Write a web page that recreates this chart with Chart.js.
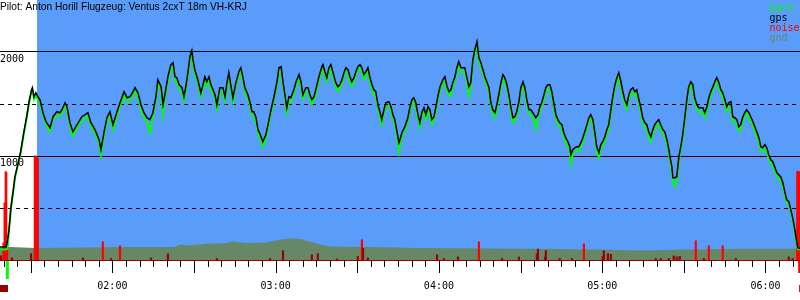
<!DOCTYPE html>
<html>
<head>
<meta charset="utf-8">
<script src="https://cdn.jsdelivr.net/npm/chart.js@4.4.1/dist/chart.umd.min.js"></script>
<style>
  html, body { margin: 0; padding: 0; background: #fff; }
  #wrap { width: 800px; height: 300px; position: relative; }
</style>
</head>
<body>
<div id="wrap"><canvas id="baro"></canvas></div>
<script>
// Barogramm eines Segelflugs: Zeit in Minuten ab 00:00, Höhen in m.
// baro/gps als Linien, Motorgeräusch (ENL) als Balken, Gelände als Fläche.
const TITLE = "Pilot: Anton Horill Flugzeug: Ventus 2cxT 18m VH-KRJ";
const X_MIN = 78.7, X_MAX = 372.7;
const START_T = 92.3;     // ab hier blau hinterlegt (Motor aus, Abflug)
const TAKEOFF_T = 81.4;   // grüne Marke unter der Achse
const LANDING_T = 372.4;  // rote Marke unter der Achse
const HOUR_TICKS = [120, 180, 240, 300, 360];
const ALT_LINES = [500, 1000, 1500, 2000];

const TIMES = [
  78.7, 80.2, 80.9, 81.2, 81.5, 82.0, 82.7, 83.6, 84.2, 85.4,
  86.3, 87.3, 88.5, 89.5, 90.3, 90.6, 91.2, 91.9, 92.6, 93.4,
  94.5, 95.6, 97.1, 98.2, 99.6, 100.7, 101.5, 102.6, 103.3, 104.4,
  105.5, 106.6, 107.7, 108.8, 110.0, 111.0, 112.1, 113.6, 115.1, 115.8,
  116.9, 118.0, 119.1, 120.2, 121.7, 122.8, 124.3, 125.4, 126.5, 127.6,
  128.3, 129.4, 130.5, 131.6, 132.7, 133.8, 134.9, 136.0, 136.7, 137.9,
  138.6, 139.3, 140.4, 141.5, 142.3, 143.0, 143.7, 144.5, 145.6, 146.3,
  147.0, 147.8, 148.5, 149.2, 149.6, 150.3, 151.4, 152.5, 153.3, 154.0,
  154.7, 155.5, 156.2, 157.0, 157.7, 158.4, 159.5, 160.6, 161.4, 162.1,
  162.8, 163.6, 164.3, 165.4, 166.5, 167.2, 168.0, 168.7, 169.8, 170.6,
  171.3, 172.0, 172.8, 173.5, 174.2, 175.3, 176.4, 177.2, 178.3, 179.4,
  180.5, 181.2, 182.0, 182.7, 183.4, 184.1, 184.9, 185.6, 186.7, 187.5,
  188.6, 189.3, 190.0, 191.1, 191.9, 192.6, 193.3, 194.1, 195.2, 195.9,
  197.0, 197.4, 198.1, 198.8, 199.6, 200.3, 201.0, 202.1, 202.9, 203.6,
  204.4, 205.1, 205.8, 206.6, 207.3, 208.0, 208.8, 209.5, 210.2, 211.0,
  211.7, 212.4, 213.2, 213.9, 214.6, 215.4, 216.1, 216.8, 217.6, 218.3,
  219.0, 219.8, 220.5, 221.6, 222.4, 223.1, 223.8, 224.6, 225.3, 225.7,
  226.4, 227.5, 228.6, 229.3, 230.1, 230.8, 231.5, 232.3, 233.0, 233.7,
  234.5, 235.2, 236.0, 236.7, 237.4, 238.2, 238.9, 239.6, 240.4, 241.5,
  242.2, 243.0, 243.7, 244.4, 245.1, 245.9, 246.6, 247.3, 248.1, 248.8,
  249.5, 250.3, 251.0, 251.7, 252.5, 253.2, 254.0, 254.7, 255.4, 256.2,
  256.9, 257.6, 258.4, 259.1, 259.8, 260.6, 261.3, 262.0, 262.8, 263.5,
  264.2, 265.0, 265.7, 266.4, 267.2, 267.9, 268.6, 269.4, 270.1, 270.9,
  271.6, 272.3, 273.1, 273.8, 274.5, 275.6, 276.4, 277.1, 277.8, 278.6,
  279.3, 280.0, 280.8, 281.5, 282.2, 283.0, 283.7, 284.4, 285.2, 285.9,
  286.6, 287.4, 288.1, 288.5, 289.2, 290.0, 290.7, 291.4, 292.2, 292.9,
  293.6, 294.4, 295.1, 295.8, 296.6, 297.3, 298.0, 298.8, 299.5, 300.2,
  301.0, 301.7, 302.4, 303.2, 303.9, 304.7, 305.4, 306.1, 306.9, 307.6,
  308.3, 309.1, 309.8, 310.5, 311.3, 312.0, 312.7, 313.5, 314.2, 314.9,
  315.7, 316.4, 317.1, 317.9, 318.6, 319.3, 320.1, 320.8, 321.5, 322.3,
  323.0, 323.8, 324.5, 324.9, 325.6, 326.0, 326.7, 327.4, 328.2, 328.9,
  329.6, 330.4, 331.1, 331.8, 332.6, 333.3, 334.0, 334.8, 335.5, 336.2,
  337.0, 337.7, 338.5, 339.2, 339.9, 340.7, 341.4, 342.1, 342.9, 343.6,
  344.3, 345.1, 345.8, 346.5, 347.3, 348.0, 348.7, 349.5, 350.2, 350.9,
  351.7, 352.4, 353.1, 353.9, 354.6, 355.4, 356.1, 356.8, 357.6, 358.3,
  359.0, 359.8, 360.5, 361.2, 362.0, 362.7, 363.4, 364.2, 364.9, 365.6,
  366.4, 367.1, 367.8, 368.6, 369.3, 370.0, 370.8, 371.5, 371.9, 372.7,
];

const GPS_ALT = [
  125, 125, 125, 150, 195, 291, 503, 676, 801, 936,
  1041, 1205, 1378, 1541, 1637, 1657, 1570, 1608, 1570, 1541,
  1416, 1330, 1272, 1378, 1426, 1416, 1445, 1512, 1474, 1320,
  1233, 1282, 1330, 1378, 1397, 1416, 1320, 1253, 1157, 1061,
  1224, 1368, 1426, 1301, 1426, 1512, 1618, 1560, 1570, 1618,
  1657, 1608, 1493, 1416, 1368, 1349, 1416, 1570, 1734, 1666,
  1493, 1589, 1762, 1878, 1897, 1762, 1753, 1686, 1657, 1570,
  1666, 1811, 1955, 2013, 1926, 1830, 1734, 1608, 1686, 1762,
  1714, 1762, 1686, 1637, 1589, 1493, 1657, 1657, 1570, 1705,
  1801, 1666, 1560, 1705, 1811, 1849, 1753, 1657, 1589, 1512,
  1426, 1426, 1368, 1253, 1215, 1137, 1205, 1301, 1445, 1570,
  1714, 1849, 1859, 1714, 1589, 1464, 1570, 1560, 1637, 1714,
  1782, 1714, 1589, 1657, 1657, 1589, 1541, 1570, 1686, 1762,
  1859, 1878, 1811, 1753, 1849, 1878, 1811, 1705, 1666, 1686,
  1734, 1801, 1849, 1830, 1762, 1714, 1753, 1811, 1859, 1878,
  1849, 1782, 1811, 1849, 1762, 1686, 1637, 1618, 1493, 1426,
  1349, 1445, 1512, 1522, 1474, 1397, 1349, 1233, 1128, 1157,
  1224, 1282, 1368, 1464, 1541, 1560, 1512, 1397, 1320, 1416,
  1464, 1397, 1474, 1445, 1349, 1378, 1474, 1570, 1666, 1734,
  1762, 1666, 1618, 1637, 1705, 1762, 1849, 1907, 1849, 1849,
  1849, 1753, 1666, 1705, 1926, 2022, 2099, 1945, 1897, 1830,
  1762, 1714, 1657, 1512, 1445, 1416, 1493, 1589, 1705, 1782,
  1753, 1686, 1589, 1474, 1368, 1378, 1426, 1522, 1657, 1714,
  1657, 1541, 1445, 1445, 1416, 1368, 1397, 1474, 1512, 1589,
  1657, 1686, 1686, 1618, 1512, 1397, 1349, 1320, 1301, 1224,
  1176, 1137, 1089, 1012, 1061, 1080, 1089, 1089, 1128, 1176,
  1233, 1301, 1368, 1397, 1349, 1224, 1089, 1032, 1109, 1137,
  1186, 1253, 1301, 1445, 1570, 1686, 1753, 1801, 1714, 1618,
  1541, 1493, 1589, 1637, 1657, 1618, 1637, 1541, 1464, 1368,
  1320, 1301, 1233, 1186, 1253, 1301, 1330, 1349, 1301, 1253,
  1233, 1157, 1061, 993, 897, 791, 791, 801, 993, 1089,
  1205, 1378, 1541, 1666, 1714, 1686, 1560, 1493, 1464, 1464,
  1464, 1416, 1474, 1560, 1618, 1666, 1714, 1753, 1705, 1637,
  1608, 1541, 1474, 1512, 1522, 1378, 1368, 1349, 1282, 1301,
  1378, 1416, 1445, 1416, 1378, 1330, 1282, 1233, 1176, 1089,
  1080, 1109, 1080, 1012, 964, 945, 897, 839, 820, 801,
  743, 657, 580, 561, 484, 407, 291, 176, 118, 110,
];

const BARO_ALT = [
  100, 100, 100, 105, 110, 280, 490, 665, 790, 925,
  1030, 1190, 1365, 1525, 1615, 1630, 1545, 1580, 1545, 1510,
  1390, 1300, 1235, 1345, 1395, 1385, 1415, 1485, 1440, 1285,
  1195, 1250, 1300, 1345, 1360, 1385, 1285, 1220, 1125, 1010,
  1190, 1335, 1395, 1255, 1390, 1480, 1580, 1525, 1535, 1585,
  1625, 1570, 1455, 1375, 1325, 1225, 1380, 1530, 1700, 1625,
  1400, 1550, 1725, 1845, 1860, 1720, 1715, 1645, 1615, 1530,
  1630, 1775, 1920, 1980, 1890, 1790, 1695, 1570, 1650, 1725,
  1680, 1725, 1645, 1600, 1550, 1450, 1620, 1615, 1530, 1670,
  1765, 1625, 1520, 1670, 1775, 1815, 1715, 1615, 1550, 1475,
  1385, 1380, 1330, 1210, 1175, 1090, 1170, 1265, 1410, 1535,
  1680, 1815, 1820, 1675, 1550, 1415, 1535, 1520, 1600, 1680,
  1745, 1675, 1550, 1620, 1615, 1550, 1500, 1530, 1650, 1725,
  1825, 1845, 1770, 1715, 1815, 1840, 1770, 1665, 1625, 1645,
  1695, 1765, 1815, 1790, 1720, 1675, 1715, 1775, 1825, 1845,
  1810, 1740, 1770, 1810, 1720, 1640, 1595, 1575, 1455, 1385,
  1305, 1405, 1475, 1485, 1430, 1355, 1310, 1190, 1045, 1110,
  1185, 1245, 1330, 1425, 1505, 1525, 1470, 1355, 1275, 1380,
  1425, 1355, 1435, 1400, 1305, 1340, 1435, 1530, 1630, 1695,
  1720, 1625, 1575, 1595, 1665, 1725, 1810, 1870, 1805, 1800,
  1805, 1710, 1580, 1665, 1890, 1990, 2065, 1905, 1860, 1790,
  1725, 1675, 1615, 1470, 1400, 1370, 1455, 1550, 1670, 1745,
  1715, 1645, 1545, 1430, 1320, 1335, 1385, 1480, 1620, 1680,
  1615, 1500, 1405, 1400, 1375, 1260, 1355, 1435, 1475, 1550,
  1620, 1645, 1645, 1575, 1470, 1355, 1310, 1280, 1260, 1180,
  1135, 1095, 1045, 930, 1020, 1040, 1050, 1045, 1085, 1135,
  1195, 1260, 1330, 1355, 1305, 1180, 1045, 985, 1065, 1095,
  1145, 1215, 1260, 1410, 1535, 1650, 1715, 1765, 1675, 1575,
  1500, 1450, 1550, 1600, 1615, 1575, 1595, 1500, 1420, 1325,
  1275, 1260, 1190, 1140, 1210, 1260, 1290, 1310, 1260, 1210,
  1190, 1115, 1020, 955, 860, 755, 710, 760, 960, 1055,
  1170, 1345, 1505, 1630, 1680, 1645, 1515, 1450, 1420, 1420,
  1425, 1370, 1435, 1520, 1580, 1630, 1680, 1715, 1665, 1595,
  1565, 1495, 1430, 1470, 1480, 1330, 1325, 1305, 1240, 1260,
  1340, 1380, 1410, 1375, 1335, 1285, 1240, 1190, 1130, 1045,
  1040, 1070, 1040, 970, 925, 905, 860, 805, 780, 765,
  705, 625, 550, 535, 455, 385, 270, 160, 105, 100,
];

// Geländehöhe unter dem Flugweg
const GND_TIMES = [78.7, 82.4, 91.6, 126.5, 143.0, 144.8, 148.5, 154.0, 161.4, 164.0,
  168.7, 176.1, 181.6, 185.3, 188.9, 192.6, 196.3, 200.0, 225.7, 231.2,
  269.7, 284.4, 315.0, 328.5, 350.6, 372.7];
const GND_ALT = [115, 125, 115, 125, 125, 150, 140, 157, 160, 179,
  163, 165, 195, 208, 205, 176, 150, 131, 121, 115,
  109, 106, 92, 99, 109, 109];

// Motorgeräusch (ENL), gleiche Skala wie die Höhe
const NOISE_TIMES = [79.1, 80.0, 80.4, 80.8, 81.0, 81.3, 83.1, 90.1, 91.5, 91.9,
  92.2, 92.6, 109.2, 116.5, 119.5, 122.8, 134.2, 140.4, 158.4, 177.9,
  182.7, 193.3, 195.5, 202.5, 210.2, 211.7, 212.1, 213.9, 239.3, 241.8,
  247.0, 254.7, 263.2, 269.4, 276.0, 276.4, 279.0, 279.3, 284.4, 288.9,
  293.3, 300.2, 300.6, 302.1, 303.2, 319.7, 321.5, 324.5, 326.3, 327.4,
  328.5, 334.4, 337.4, 339.2, 344.3, 349.1, 368.6, 370.0, 371.7, 372.1, 372.4];
const NOISE_LEVEL = [40, 165, 550, 850, 840, 160, 20, 60, 1000, 1000,
  990, 975, 20, 175, 15, 137, 20, 60, 15, 15,
  90, 50, 60, 10, 35, 195, 110, 20, 50, 15,
  30, 175, 15, 30, 60, 105, 30, 90, 15, 15,
  155, 35, 90, 60, 55, 15, 15, 15, 40, 30,
  35, 185, 15, 137, 137, 15, 30, 15, 850, 850, 850];

const COLORS = { baro: "#00ff00", gps: "#000000", noise: "#ff0000", noiseLow: "#990000", gnd: "#668866" };
const BG_BLUE = "#5a9cfa";
const MONO = "DejaVu Sans Mono";

function hhmm(m) {
  const h = Math.floor(m / 60), mm = Math.round(m % 60);
  return String(h).padStart(2, "0") + ":" + String(mm).padStart(2, "0");
}

// Hintergrund, Zeitstriche, Marken, Titel und Legende
const barogram = {
  id: "barogram",
  beforeDraw(chart) {
    const { ctx, chartArea: a, scales: { x } } = chart;
    ctx.save();
    ctx.fillStyle = "#fff";
    ctx.fillRect(0, 0, chart.width, chart.height);
    const x0 = x.getPixelForValue(START_T);
    ctx.fillStyle = BG_BLUE;
    ctx.fillRect(x0, a.top, a.right - x0, a.bottom - a.top);
    ctx.restore();
  },
  afterDraw(chart) {
    const { ctx, chartArea: a, scales: { x } } = chart;
    ctx.save();
    // 5-Minuten-Striche, halbe Stunden lang
    ctx.strokeStyle = "#000";
    ctx.lineWidth = 1;
    ctx.beginPath();
    for (let m = Math.ceil(X_MIN / 5) * 5; m <= X_MAX; m += 5) {
      const px = Math.round(x.getPixelForValue(m)) + 0.5;
      ctx.moveTo(px, a.bottom + 1);
      ctx.lineTo(px, a.bottom + 1 + (m % 30 === 0 ? 12 : 6));
    }
    ctx.stroke();

    // Start-/Landemarken
    const pt = x.getPixelForValue(TAKEOFF_T);
    ctx.fillStyle = COLORS.baro;
    ctx.fillRect(pt - 1.5, a.bottom + 1, 3, 18);
    const pl = x.getPixelForValue(LANDING_T);
    ctx.fillStyle = COLORS.noise;
    ctx.fillRect(pl - 1, a.bottom + 1, 3, 12);
    ctx.fillStyle = COLORS.noiseLow;
    ctx.fillRect(x.getPixelForValue(X_MIN), a.bottom + 25, 8, 7);
    ctx.fillRect(pl, a.bottom + 25, 8, 7);

    // Titel
    ctx.fillStyle = "#000";
    ctx.font = '10.2px "Liberation Sans"';
    ctx.textBaseline = "alphabetic";
    ctx.textAlign = "left";
    ctx.fillText(TITLE, a.left, a.top + 10);

    // Legende oben rechts
    ctx.font = "10px " + MONO;
    const items = ["baro", "gps", "noise", "gnd"];
    items.forEach(function (k, i) {
      ctx.fillStyle = COLORS[k];
      ctx.fillText(k, a.right - 30.5, a.top + 10.5 + i * 10);
    });
    ctx.restore();
  },
};

const pts = (xs, ys) => xs.map((t, i) => ({ x: t, y: ys[i] }));

new Chart(document.getElementById("baro"), {
  type: "line",
  data: {
    datasets: [
      {
        label: "baro", data: pts(TIMES, BARO_ALT),
        borderColor: COLORS.baro, borderWidth: 2, pointRadius: 0, tension: 0, order: 1,
      },
      {
        label: "gps", data: pts(TIMES, GPS_ALT),
        borderColor: COLORS.gps, borderWidth: 1.5, pointRadius: 0, tension: 0, order: 0,
      },
      {
        type: "bar", label: "noise", data: pts(NOISE_TIMES, NOISE_LEVEL),
        backgroundColor: c => (c.parsed && c.parsed.y >= 130) ? COLORS.noise : COLORS.noiseLow,
        barThickness: 1.5, grouped: false, order: 2,
      },
      {
        label: "gnd", data: pts(GND_TIMES, GND_ALT),
        fill: "origin", backgroundColor: COLORS.gnd, borderWidth: 0,
        pointRadius: 0, tension: 0, order: 3,
      },
    ],
  },
  options: {
    responsive: true,
    maintainAspectRatio: false,
    animation: false,
    devicePixelRatio: 1,
    events: [],
    layout: { padding: 0 },
    scales: {
      x: {
        type: "linear", min: X_MIN, max: X_MAX, offset: false, z: 1,
        afterBuildTicks: s => { s.ticks = HOUR_TICKS.map(v => ({ value: v })); },
        afterFit: s => { s.height = 40; s.paddingLeft = 0; s.paddingRight = 0; },
        grid: { display: false, drawTicks: false, offset: false },
        border: { display: true, color: COLORS.noiseLow, width: 2 },
        ticks: {
          padding: 20, color: "#000", maxRotation: 0, autoSkip: false,
          font: { family: MONO, size: 10 },
          callback: v => hhmm(v),
        },
      },
      y: {
        type: "linear", min: 0, max: 2500, position: "left",
        afterBuildTicks: s => { s.ticks = ALT_LINES.map(v => ({ value: v })); },
        afterFit: s => { s.width = 0; s.paddingTop = 0; s.paddingBottom = 0; },
        grid: { color: "#000", lineWidth: 1, drawTicks: false },
        border: { display: false, dash: c => (c.tick && c.tick.value % 1000) ? [4, 4] : [] },
        ticks: {
          mirror: true, padding: 0, labelOffset: 7, color: "#000",
          font: { family: MONO, size: 10 },
          callback: v => (v % 1000 === 0 ? String(v) : ""),
        },
      },
    },
    plugins: {
      legend: { display: false },
      tooltip: { enabled: false },
    },
  },
  plugins: [barogram],
});
</script>
</body>
</html>
